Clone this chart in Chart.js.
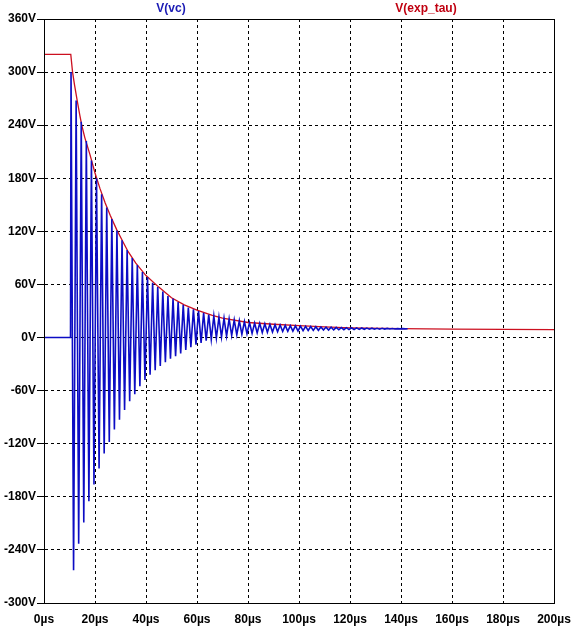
<!DOCTYPE html>
<html>
<head>
<meta charset="utf-8">
<script src="https://cdn.jsdelivr.net/npm/chart.js@4/dist/chart.umd.min.js"></script>
<style>
  html, body { margin: 0; padding: 0; background: #fff; }
  #wrap { width: 574px; height: 628px; }
</style>
</head>
<body>
<div id="wrap"><canvas id="plot" width="574" height="628"></canvas></div>
<script>
// valores (tempo em µs, tensão em V)
const yTicks = [-300, -240, -180, -120, -60, 0, 60, 120, 180, 240, 300, 360];
const xTicks = [0, 20, 40, 60, 80, 100, 120, 140, 160, 180, 200];

// V(exp_tau): envelope vermelho
const expT = [0, 10.5, 11.2, 12, 13, 14, 14.8, 16, 18, 20, 22, 24, 26, 28.5, 31, 33, 36, 40, 45, 50, 55, 60, 66, 70, 80, 90, 100, 110, 120, 140, 160, 180, 200];
const expV = [320, 320, 300, 285, 268, 252, 240, 226, 207, 186, 168, 152, 138, 122, 108, 97, 84, 70, 57, 45, 37, 31, 25, 22, 17, 15, 13.5, 12, 11, 10, 9.5, 9.2, 9];

// V(vc): antes da oscilação
const vcStartT = [0, 10.4];
const vcStartV = [0, 0];

// V(vc): picos
const peakT = [10.6, 12.6, 14.6, 16.6, 18.6, 20.6, 22.6, 24.6, 26.6, 28.6, 30.6, 32.6, 34.6, 36.6, 38.6, 40.6, 42.6, 44.6, 46.6, 48.6,
  50.6, 52.6, 54.6, 56.6, 58.6, 60.6, 62.6, 64.6, 66.6, 68.6, 70.6, 72.6, 74.6, 76.6, 78.6, 80.6, 82.6, 84.6, 86.6, 88.6,
  90.6, 92.6, 94.6, 96.6, 98.6, 100.6, 102.6, 104.6, 106.6, 108.6, 110.6, 112.6, 114.6, 116.6, 118.6, 120.6, 122.6, 124.6, 126.6, 128.6,
  130.6, 132.6, 134.6, 136.6, 138.6, 140.6, 142.6];
const peakV = [300, 268, 244, 222, 200, 180, 162, 147, 134, 121, 110, 99, 90, 82, 74, 68, 62, 57, 52, 47,
  44, 40, 37, 34, 32, 30, 28, 26, 24.5, 23, 22, 21, 20, 19, 18, 17, 16.5, 16, 15.5, 15,
  14.6, 14.2, 13.8, 13.5, 13.2, 12.9, 12.6, 12.4, 12.2, 12, 11.8, 11.6, 11.4, 11.2, 11.1, 11, 10.9, 10.8, 10.7, 10.6,
  10.5, 10.4, 10.3, 10.2, 10.1, 10.05, 10];

// V(vc): vales
const troughT = [11.6, 13.6, 15.6, 17.6, 19.6, 21.6, 23.6, 25.6, 27.6, 29.6, 31.6, 33.6, 35.6, 37.6, 39.6, 41.6, 43.6, 45.6, 47.6, 49.6,
  51.6, 53.6, 55.6, 57.6, 59.6, 61.6, 63.6, 65.6, 67.6, 69.6, 71.6, 73.6, 75.6, 77.6, 79.6, 81.6, 83.6, 85.6, 87.6, 89.6,
  91.6, 93.6, 95.6, 97.6, 99.6, 101.6, 103.6, 105.6, 107.6, 109.6, 111.6, 113.6, 115.6, 117.6, 119.6, 121.6, 123.6, 125.6, 127.6, 129.6,
  131.6, 133.6, 135.6, 137.6, 139.6, 141.6];
const troughV = [-263, -233, -209, -185, -166, -148, -131, -118, -104, -93, -82, -72, -64, -55, -48, -42, -37, -32, -28, -24,
  -21, -18, -14, -11, -8, -6, -3.5, -2, -0.5, 0.5, 1.5, 2.3, 3, 3.6, 4.2, 4.7, 5.2, 5.6, 6, 6.3,
  6.6, 6.9, 7.1, 7.3, 7.5, 7.7, 7.9, 8.1, 8.2, 8.4, 8.5, 8.6, 8.8, 8.9, 9, 9.1, 9.2, 9.3, 9.4, 9.45,
  9.5, 9.6, 9.65, 9.7, 9.75, 9.8];

const corAzul = '#0c0cc4';
const corVermelha = '#cc1020';
const fonte = '"Liberation Sans", Arial, sans-serif';

// monta os pontos da curva azul intercalando picos e vales
const vcPontos = [];
vcStartT.forEach((t, i) => vcPontos.push({ x: t, y: vcStartV[i] }));
peakT.forEach((t, i) => {
    vcPontos.push({ x: t, y: peakV[i] });
    if (i < troughT.length) vcPontos.push({ x: troughT[i], y: troughV[i] });
});

const expPontos = expT.map((t, i) => ({ x: t, y: expV[i] }));

// moldura sólida e títulos dos traços
const moldura = {
    id: 'moldura',
    afterDraw(chart) {
        const { ctx, chartArea: a } = chart;
        ctx.save();
        ctx.strokeStyle = '#000';
        ctx.lineWidth = 1;
        ctx.setLineDash([]);
        ctx.strokeRect(a.left + 0.5, a.top + 0.5, a.right - a.left, a.bottom - a.top);
        ctx.font = 'bold 12px ' + fonte;
        ctx.textAlign = 'center';
        ctx.textBaseline = 'middle';
        ctx.fillStyle = '#1a1ab4';
        ctx.fillText('V(vc)', 171, 9);
        ctx.fillStyle = '#c00010';
        ctx.fillText('V(exp_tau)', 426, 9);
        ctx.restore();
    }
};

new Chart(document.getElementById('plot'), {
    type: 'line',
    data: {
        datasets: [
            {
                label: 'V(vc)',
                data: vcPontos,
                borderColor: corAzul,
                borderWidth: 1.6,
                pointRadius: 0,
                tension: 0
            },
            {
                label: 'V(exp_tau)',
                data: expPontos,
                borderColor: corVermelha,
                borderWidth: 1.3,
                pointRadius: 0,
                tension: 0
            }
        ]
    },
    options: {
        responsive: false,
        animation: false,
        devicePixelRatio: 1,
        layout: { padding: { top: 19, right: 20, left: 0, bottom: 0 } },
        plugins: {
            legend: { display: false },
            tooltip: { enabled: false }
        },
        scales: {
            x: {
                type: 'linear',
                min: 0,
                max: 200,
                afterFit: s => { s.height = 25; s.paddingLeft = 0; s.paddingRight = 0; },
                afterBuildTicks: s => { s.ticks = xTicks.map(v => ({ value: v })); },
                ticks: {
                    color: '#000',
                    font: { family: fonte, size: 12, weight: 'bold' },
                    padding: 9,
                    maxRotation: 0,
                    callback: v => v + 'µs'
                },
                grid: { color: '#000', lineWidth: 1, drawTicks: false },
                border: { color: '#000', width: 1, dash: [3, 3] }
            },
            y: {
                type: 'linear',
                min: -300,
                max: 360,
                afterFit: s => { s.width = 44; s.paddingTop = 0; s.paddingBottom = 0; },
                afterBuildTicks: s => { s.ticks = yTicks.map(v => ({ value: v })); },
                ticks: {
                    color: '#000',
                    font: { family: fonte, size: 12, weight: 'bold' },
                    padding: 1,
                    callback: v => v + 'V'
                },
                grid: { color: '#000', lineWidth: 1, tickLength: 7, tickBorderDash: [], tickColor: '#000' },
                border: { color: '#000', width: 1, dash: [3, 3] }
            }
        }
    },
    plugins: [moldura]
});
</script>
</body>
</html>
